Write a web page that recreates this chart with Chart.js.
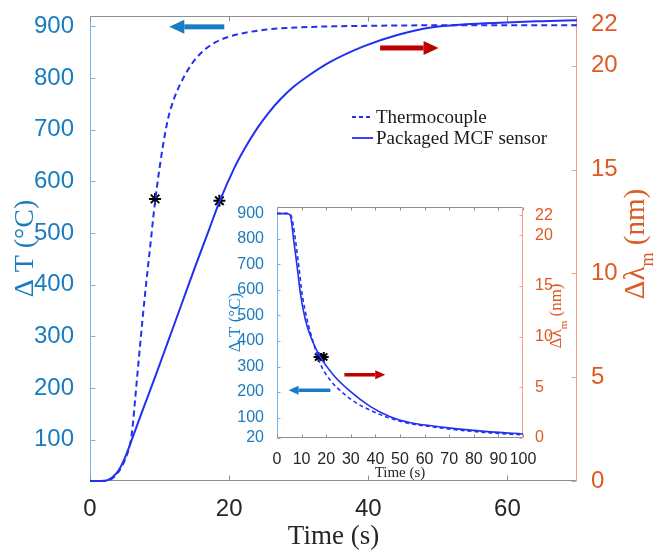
<!DOCTYPE html>
<html><head><meta charset="utf-8">
<script src="https://cdn.jsdelivr.net/npm/chart.js@4.4.1/dist/chart.umd.min.js"></script>
<style>
html,body{margin:0;padding:0;background:#fff;}
#wrap{position:relative;width:656px;height:554px;overflow:hidden;}
#main{position:absolute;left:0;top:0;width:656px;height:554px;}
#inset{position:absolute;left:225px;top:200px;width:355px;height:285px;}
</style></head><body>
<div id="wrap"><canvas id="main" width="656" height="554"></canvas><canvas id="inset" width="355" height="285"></canvas></div>
<script>
// ---------- main chart data (heating) ----------
const mainTcTime  = [0,1,2,2.8,3.5,4.3,5.05,5.9,6.2,6.5,7.2,7.9,8.7,9.4,10.5,11.2,12,13,14,15,16.5,18,20,22.5,25.5,30,35,40,50,60,70];
const mainTcTemp  = [20,20,20,22,28,42,62,101,135,180,283,380,480,566,670,720,757,789,814,834,855,869,880,888,894,898,900,901,902,902,902];
const mainMcfTime = [0,1,2,2.6,3.3,4.1,5,5.8,7.5,9.4,11.3,13.2,15.2,17.1,18.6,20.7,22.3,24.05,25.7,27.4,29.3,31.3,34.6,39.4,44.3,49,54,59,65,70];
const mainMcfShift= [0,0,0.01,0.05,0.2,0.5,1.1,1.8,3.35,5.05,6.8,8.55,10.4,12.1,13.45,15.05,16.05,17.0,17.75,18.4,19.0,19.5,20.2,20.95,21.5,21.85,22.0,22.08,22.15,22.2];
const mainStarTc  = [{x:9.35, y:566}];
const mainStarMcf = [{x:18.6, y:13.5}];
// ---------- inset data (cooling) ----------
const insetTcTime  = [0,2,4,5,5.8,6.5,7.5,8.9,10.2,12.3,14.9,17.6,21.7,27.1,32.6,38.1,46,54.3,59.6,73.2,86.8,100];
const insetTcTemp  = [900,900,900,898,890,860,795,690,586,481,390,311,246,194,155,128,97,76,68,52,40,32];
const insetMcfTime = [0,2,4,4.8,5.5,6.8,8.2,9.5,11.5,14.2,17.6,23,29.8,38,46,54.3,59.6,73.2,86.8,100];
const insetMcfShift= [22.15,22.15,22.15,22.1,21.9,19.5,16.9,14.3,11.7,9.7,8.0,6.2,4.6,3.1,2.1,1.5,1.3,0.9,0.6,0.4];
const insetStarTc  = [{x:16.9, y:337}];
const insetStarMcf = [{x:19.0, y:8.0}];
// ---------- tick labels ----------
const mainXTicks     = [0,20,40,60];
const mainTempTicks  = [100,200,300,400,500,600,700,800,900];
const mainShiftTicks = [0,5,10,15,20,22];
const insetXTicks     = [0,10,20,30,40,50,60,70,80,90,100];
const insetTempTicks  = [20,100,200,300,400,500,600,700,800,900];
const insetShiftTicks = [0,5,10,15,20,22];
// ---------- text ----------
const seriesNames = ['Thermocouple','Packaged MCF sensor'];
const xTitle = 'Time (s)';
const tempTitle = 'Δ T (°C)';
// ---------- arrow annotations (data units) ----------
const mainArrows  = [{from:19.3,to:11.4,at:899,axis:'yL',color:'#1a7cc4'},{from:41.7,to:50.1,at:20.86,axis:'yR',color:'#c00000'}];
const insetArrows = [{from:21.7,to:4.7,at:207,axis:'yL',color:'#1a7cc4'},{from:27.4,to:44.0,at:6.24,axis:'yR',color:'#c00000'}];

const BLUE_LINE = '#2230f0';
const TEMP_C = '#1a7cc0';
const SHIFT_C = '#dd5a22';
const SANS = '"Liberation Sans", Arial, sans-serif';
const SERIF = '"Liberation Serif", "Times New Roman", serif';

const pts = (xs, ys) => xs.map((x,i)=>({x, y:ys[i]}));

const framePlugin = {
  id:'frame',
  beforeDatasetsDraw(chart, args, o){
    const {ctx, chartArea:a} = chart;
    const sx = chart.scales.x, sl = chart.scales.yL, sr = chart.scales.yR;
    ctx.save();
    ctx.lineWidth = 1;
    const seg=(x1,y1,x2,y2,c)=>{ctx.strokeStyle=c;ctx.beginPath();ctx.moveTo(x1,y1);ctx.lineTo(x2,y2);ctx.stroke();};
    const L=Math.round(a.left)+0.5, R=Math.round(a.right)-0.5, T=Math.round(a.top)+0.5, B=Math.round(a.bottom)-0.5;
    seg(L,T,R,T,o.xColor); seg(L,B,R,B,o.xColor);
    seg(L,T,L,B,o.leftColor); seg(R,T,R,B,o.rightColor);
    sx.ticks.forEach(t=>{const p=Math.round(sx.getPixelForValue(t.value))+0.5; seg(p,B,p,B-o.tickLen,o.xColor); seg(p,T,p,T+o.tickLen,o.xColor);});
    sl.ticks.forEach(t=>{const p=Math.round(sl.getPixelForValue(t.value))+0.5; seg(L,p,L+o.tickLen,p,o.leftColor);});
    sr.ticks.forEach(t=>{const p=Math.round(sr.getPixelForValue(t.value))+0.5; seg(R,p,R-o.tickLen,p,o.rightColor);});
    ctx.restore();
  },
  afterDatasetsDraw(chart, args, o){
    const ctx = chart.ctx, sx = chart.scales.x;
    ctx.save();
    (o.arrows||[]).forEach(ar=>{
      const x1=sx.getPixelForValue(ar.from), x2=sx.getPixelForValue(ar.to), y=chart.scales[ar.axis].getPixelForValue(ar.at);
      const dir=Math.sign(x2-x1), hx=x2-dir*o.arrowHead;
      ctx.fillStyle=ar.color;
      ctx.fillRect(Math.min(x1,hx), y-o.arrowShaft/2, Math.abs(hx-x1), o.arrowShaft);
      ctx.beginPath(); ctx.moveTo(x2,y); ctx.lineTo(hx,y-o.arrowHalf); ctx.lineTo(hx,y+o.arrowHalf); ctx.closePath(); ctx.fill();
    });
    ctx.restore();
  },
  afterDraw(chart, args, o){
    const ctx=chart.ctx;
    const t=o.rTitle;
    ctx.save();
    ctx.translate(t.x, t.y); ctx.rotate(-Math.PI/2);
    const f1=t.size+'px '+SERIF, f2=Math.round(t.size*0.62)+'px '+SERIF;
    ctx.font=f1; const w1=ctx.measureText('Δλ').width, w3=ctx.measureText(' (nm)').width;
    ctx.font=f2; const w2=ctx.measureText('m').width;
    let x=-(w1+w2+w3)/2;
    ctx.fillStyle=SHIFT_C; ctx.textBaseline='middle'; ctx.textAlign='left';
    ctx.font=f1; ctx.fillText('Δλ',x,0); x+=w1;
    ctx.font=f2; ctx.fillText('m',x,t.size*0.42); x+=w2;
    ctx.font=f1; ctx.fillText(' (nm)',x,0);
    ctx.restore();
    if(o.legend){
      const g=o.legend;
      ctx.save();
      ctx.font=g.size+'px '+SERIF; ctx.fillStyle='#1a1a1a'; ctx.textBaseline='middle'; ctx.textAlign='left';
      seriesNames.forEach((name,i)=>{
        const y=g.y+i*g.dy;
        ctx.strokeStyle=BLUE_LINE; ctx.lineWidth=1.8; ctx.setLineDash(i===0?[4,3]:[]);
        ctx.beginPath(); ctx.moveTo(g.x,y); ctx.lineTo(g.x+g.len,y); ctx.stroke();
        ctx.setLineDash([]);
        ctx.fillText(name,g.x+g.len+3,y+1);
      });
      ctx.restore();
    }
  }
};

function fixTicks(arr){ return s=>{ s.ticks=arr.map(v=>({value:v})); }; }
function fixSize(prop,val){ return s=>{ s[prop]=val; s.paddingLeft=0; s.paddingRight=0; s.paddingTop=0; s.paddingBottom=0; }; }

function build(canvas, p){
  return new Chart(canvas, {
    type:'line',
    data:{datasets:[
      {label:seriesNames[0], data:pts(p.tcT,p.tcV), yAxisID:'yL', borderColor:BLUE_LINE, borderWidth:p.lw, borderDash:p.dash, pointRadius:0, cubicInterpolationMode:'monotone', fill:false, clip:false},
      {label:seriesNames[1], data:pts(p.mT,p.mV), yAxisID:'yR', borderColor:BLUE_LINE, borderWidth:p.lw, pointRadius:0, cubicInterpolationMode:'monotone', fill:false, clip:false},
      {data:p.starTc, yAxisID:'yL', showLine:false, pointStyle:'star', pointRadius:p.starR, borderColor:'#000', borderWidth:2, backgroundColor:'#000'},
      {data:p.starM, yAxisID:'yR', showLine:false, pointStyle:'star', pointRadius:p.starR, borderColor:'#000', borderWidth:2, backgroundColor:'#000'}
    ]},
    options:{
      responsive:false, animation:false, maintainAspectRatio:false,
      layout:{padding:{top:p.top,left:0,right:0,bottom:0}},
      plugins:{legend:{display:false}, tooltip:{enabled:false},
        frame:{xColor:'#8f8f8f', leftColor:'#78b4e0', rightColor:'#efa27e', tickLen:p.tickLen, arrows:p.arrows,
               arrowHead:p.arrowHead, arrowShaft:p.arrowShaft, arrowHalf:p.arrowHalf, rTitle:p.rTitle, legend:p.legend}},
      scales:{
        x:{type:'linear', position:'bottom', min:p.xMin, max:p.xMax,
           afterBuildTicks:fixTicks(p.xTicks), afterFit:fixSize('height',p.xH),
           grid:{display:false}, border:{display:false},
           ticks:{color:'#262626', font:{family:SANS,size:p.tickFont}, padding:p.xPad, maxRotation:0, autoSkip:false},
           title:{display:true, text:xTitle, color:'#262626', font:{family:SERIF,size:p.xTitleSize}, padding:{top:0,bottom:p.xTitlePad}}},
        yL:{type:'linear', position:'left', min:p.lMin, max:p.lMax,
           afterBuildTicks:fixTicks(p.lTicks), afterFit:fixSize('width',p.lW),
           grid:{display:false}, border:{display:false},
           ticks:{color:TEMP_C, font:{family:SANS,size:p.tickFont}, padding:p.lPad},
           title:{display:true, text:tempTitle, color:TEMP_C, font:{family:SERIF,size:p.lTitleSize,lineHeight:1.2}, padding:{top:p.lTitlePad,bottom:0}}},
        yR:{type:'linear', position:'right', min:p.rMin, max:p.rMax,
           afterBuildTicks:fixTicks(p.rTicks), afterFit:fixSize('width',p.rW),
           grid:{display:false}, border:{display:false},
           ticks:{color:SHIFT_C, font:{family:SANS,size:p.tickFont}, padding:p.rPad}}
      }
    },
    plugins:[framePlugin]
  });
}

build(document.getElementById('main'), {
  tcT:mainTcTime, tcV:mainTcTemp, mT:mainMcfTime, mV:mainMcfShift, starTc:mainStarTc, starM:mainStarMcf,
  lw:2, dash:[6,4], starR:6, top:16, tickLen:5, arrows:mainArrows, arrowHead:15, arrowShaft:5, arrowHalf:7,
  rTitle:{x:636,y:244,size:29}, legend:{x:352,y:117,dy:21,len:21,size:19},
  xMin:0, xMax:70, xTicks:mainXTicks, xH:73, tickFont:24, xPad:6, xTitleSize:27, xTitlePad:1,
  lMin:20, lMax:920, lTicks:mainTempTicks, lW:90, lPad:8, lTitleSize:28, lTitlePad:9,
  rMin:0, rMax:22.4, rTicks:mainShiftTicks, rW:79, rPad:6
});

build(document.getElementById('inset'), {
  tcT:insetTcTime, tcV:insetTcTemp, mT:insetMcfTime, mV:insetMcfShift, starTc:insetStarTc, starM:insetStarMcf,
  lw:1.6, dash:[4,3], starR:5, top:7, tickLen:3, arrows:insetArrows, arrowHead:10, arrowShaft:3.5, arrowHalf:4.5,
  rTitle:{x:332,y:116,size:17}, legend:null,
  xMin:0, xMax:100, xTicks:insetXTicks, xH:47, tickFont:16, xPad:4, xTitleSize:15, xTitlePad:3,
  lMin:20, lMax:925, lTicks:insetTempTicks, lW:52, lPad:5, lTitleSize:17, lTitlePad:0,
  rMin:0, rMax:22.8, rTicks:insetShiftTicks, rW:57, rPad:4
});
</script>
</body></html>
